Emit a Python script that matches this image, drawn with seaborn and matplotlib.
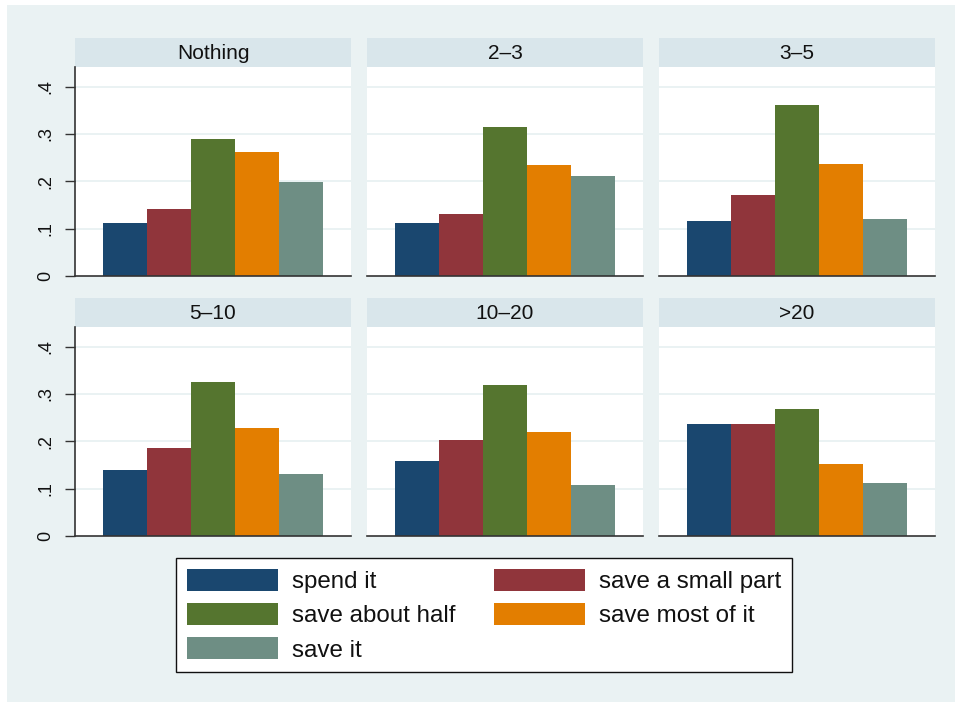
import matplotlib
matplotlib.use("Agg")
import matplotlib.pyplot as plt
from matplotlib.patches import Patch, Rectangle
import seaborn as sns
import pandas as pd

# Share of respondents by what they would do with the money, per amount group
groups = ["Nothing", "2\u20133", "3\u20135", "5\u201310", "10\u201320", ">20"]
responses = ["spend it", "save a small part", "save about half",
             "save most of it", "save it"]
spend_it = [0.113, 0.112, 0.116, 0.139, 0.158, 0.236]
save_small_part = [0.142, 0.132, 0.172, 0.186, 0.203, 0.236]
save_about_half = [0.289, 0.314, 0.361, 0.325, 0.319, 0.269]
save_most = [0.263, 0.235, 0.236, 0.228, 0.220, 0.153]
save_it = [0.198, 0.212, 0.120, 0.130, 0.107, 0.113]
y_ticks = [0, 0.1, 0.2, 0.3, 0.4]
y_tick_labels = ["0", ".1", ".2", ".3", ".4"]

series = [spend_it, save_small_part, save_about_half, save_most, save_it]
rows = []
for r, vals in zip(responses, series):
    for g, v in zip(groups, vals):
        rows.append({"group": g, "response": r, "share": v})
df = pd.DataFrame(rows)

colors = ["#1A476F", "#90353B", "#55752F", "#E37E00", "#6E8E84"]
palette = dict(zip(responses, colors))

sns.set_theme(style="white")
plt.rcParams["font.family"] = ["Liberation Sans", "DejaVu Sans"]

BG = "#EAF2F3"
STRIP = "#D9E6EB"
W, H = 955, 702
fig = plt.figure(figsize=(W / 100, H / 100), dpi=100, facecolor=BG)

# thin white margin on the top and left edges
fig.patches.append(Rectangle((0, 0), 7 / W, 1, transform=fig.transFigure,
                             facecolor="white", edgecolor="none", zorder=-1))
fig.patches.append(Rectangle((0, 1 - 5 / H), 1, 5 / H, transform=fig.transFigure,
                             facecolor="white", edgecolor="none", zorder=-1))


def px_axes(x0, y0, x1, y1):
    return fig.add_axes([x0 / W, 1 - y1 / H, (x1 - x0) / W, (y1 - y0) / H])


col_x = [(75, 351), (367, 643), (659, 935)]
row_y = [(38, 67, 276), (298, 327, 536)]
ymax = 0.4416

for i, g in enumerate(groups):
    r, c = divmod(i, 3)
    x0, x1 = col_x[c]
    s0, p0, p1 = row_y[r]

    # strip with the group title
    sax = px_axes(x0, s0, x1, p0)
    sax.set_facecolor(STRIP)
    sax.set_xticks([])
    sax.set_yticks([])
    for sp in sax.spines.values():
        sp.set_visible(False)
    sax.text(0.5, 0.47, g, ha="center", va="center", fontsize=15,
             color="#111111", transform=sax.transAxes)

    ax = px_axes(x0, p0, x1, p1)
    ax.set_facecolor("white")
    sub = df[df["group"] == g]
    sns.barplot(data=sub, x="response", y="share", hue="response",
                order=responses, hue_order=responses, palette=palette,
                width=1.0, saturation=1, errorbar=None, legend=False,
                linewidth=0, ax=ax)
    ax.set_xlim(-1.136, 5.136)
    ax.set_ylim(0, ymax)
    ax.set_xticks([])
    ax.set_xlabel("")
    ax.set_ylabel("")
    for yv in y_ticks[1:]:
        ax.axhline(yv, color=BG, linewidth=1.4, zorder=0)
    ax.set_axisbelow(True)
    ax.spines["top"].set_visible(False)
    ax.spines["right"].set_visible(False)
    ax.spines["bottom"].set_color("#333333")
    ax.spines["bottom"].set_linewidth(1.2)
    ax.set_yticks(y_ticks)
    if c == 0:
        ax.spines["left"].set_color("#333333")
        ax.spines["left"].set_linewidth(1.2)
        ax.set_yticklabels(y_tick_labels, rotation=90, va="center",
                           fontsize=13, color="#111111")
        ax.tick_params(axis="y", length=7, width=1.0, color="#333333",
                       pad=8, left=True)
    else:
        ax.spines["left"].set_visible(False)
        ax.set_yticklabels([])
        ax.tick_params(axis="y", length=0, left=False)

# legend, filled row by row
order = [0, 2, 4, 1, 3]
handles = [Patch(facecolor=colors[k], edgecolor="none") for k in order]
labels = [responses[k] for k in order]
leg = fig.legend(handles, labels, ncol=2, loc="upper left",
                 bbox_to_anchor=(176 / W, 1 - 558 / H), borderaxespad=0,
                 fontsize=17.4, frameon=True, fancybox=False,
                 handlelength=3.76, handleheight=1.03, handletextpad=0.58,
                 columnspacing=1.6, labelspacing=0.41, borderpad=0.45)
frame = leg.get_frame()
frame.set_edgecolor("#111111")
frame.set_linewidth(1.0)
frame.set_facecolor("white")
frame.set_alpha(1)
for t in leg.get_texts():
    t.set_color("#111111")

fig.savefig("out.png", dpi=100, facecolor=BG)
